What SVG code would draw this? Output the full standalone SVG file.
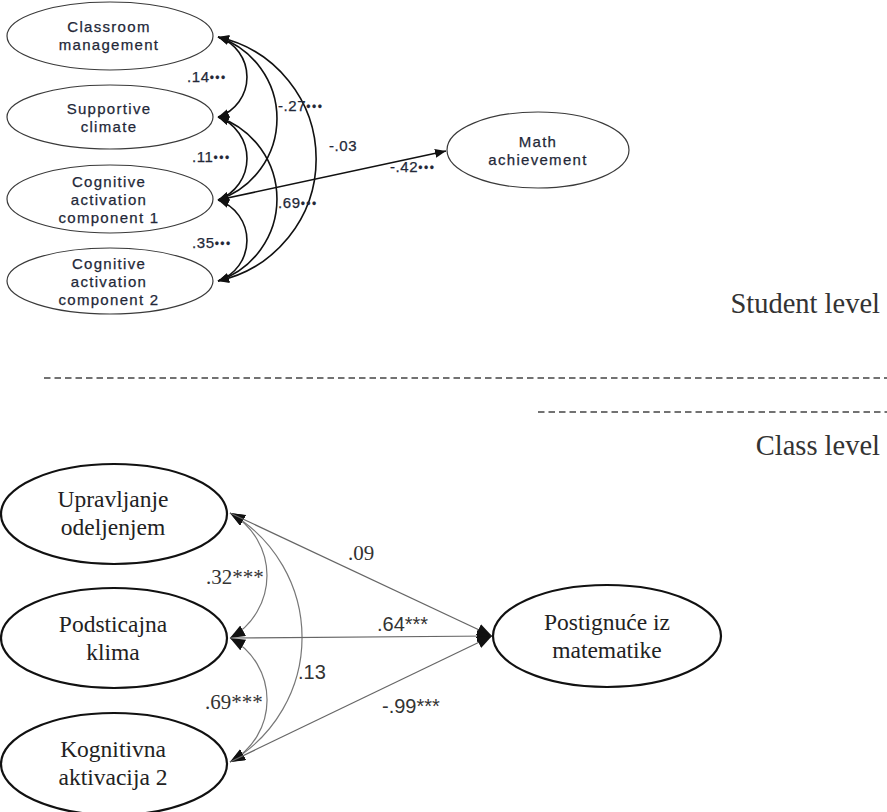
<svg xmlns="http://www.w3.org/2000/svg" width="887" height="812" viewBox="0 0 887 812">
  <style>
    .bg { fill: #ffffff; }
    .node-s { fill: #ffffff; stroke: #3a3a3a; stroke-width: 1.2; }
    .node-c { fill: #ffffff; stroke: #111111; stroke-width: 2.2; }
    .lbl-s { font-family: "Liberation Sans", Arial, sans-serif; font-size: 15px; fill: #232838; text-anchor: middle; letter-spacing: 1.3px; stroke: #232838; stroke-width: 0.25; }
    .coef-s { font-family: "Liberation Sans", Arial, sans-serif; font-size: 15px; fill: #232838; letter-spacing: 0.6px; stroke: #232838; stroke-width: 0.25; }
    .star { font-size: 12px; letter-spacing: 1.5px; }
    .lbl-c { font-family: "Liberation Serif", "Times New Roman", serif; font-size: 23.5px; fill: #222222; text-anchor: middle; }
    .coef-serif { font-family: "Liberation Serif", "Times New Roman", serif; font-size: 21px; fill: #333333; }
    .coef-sans { font-family: "Liberation Sans", Arial, sans-serif; font-size: 20px; fill: #333333; }
    .level { font-family: "Liberation Serif", "Times New Roman", serif; font-size: 28.5px; fill: #333333; text-anchor: end; }
    .cov-s { fill: none; stroke: #111111; stroke-width: 1.6; marker-start: url(#arrS); marker-end: url(#arrS); }
    .path-s { fill: none; stroke: #111111; stroke-width: 1.6; marker-end: url(#arrS); }
    .cov-c { fill: none; stroke: #777777; stroke-width: 1.2; marker-start: url(#arrC); marker-end: url(#arrC); }
    .path-c { fill: none; stroke: #666666; stroke-width: 1.2; marker-end: url(#arrC); }
    .divider { stroke: #444444; stroke-width: 1.6; stroke-dasharray: 6.5 4; }
  </style>
  <defs>
    <marker id="arrS" markerUnits="userSpaceOnUse" markerWidth="12" markerHeight="10" refX="11" refY="4.5" orient="auto-start-reverse">
      <path d="M0,0 L11,4.5 L0,9 z" fill="#111111"/>
    </marker>
    <marker id="arrC" markerUnits="userSpaceOnUse" markerWidth="16" markerHeight="14" refX="15" refY="6" orient="auto-start-reverse">
      <path d="M0,0 L15,6 L0,12 z" fill="#111111"/>
    </marker>
  </defs>

  <rect class="bg" x="0" y="0" width="887" height="812"/>

  <!-- Student-level connectors -->
  <g id="connectors-student">
    <path class="cov-s" d="M218,37 A42.1,42.1 0 0 1 218,117"/>
    <path class="cov-s" d="M218,117 A44.2,44.2 0 0 1 218,200"/>
    <path class="cov-s" d="M218,200 A42.8,42.8 0 0 1 218,281"/>
    <path class="cov-s" d="M218,37 A85.8,85.8 0 0 1 218,200"/>
    <path class="cov-s" d="M218,117 A86.5,86.5 0 0 1 218,281"/>
    <path class="cov-s" d="M218,37 A124.9,124.9 0 0 1 218,281"/>
    <path class="path-s" d="M218,200 L446,151"/>
    <text class="coef-s" x="187" y="82">.14<tspan class="star">•••</tspan></text>
    <text class="coef-s" x="278" y="111">-.27<tspan class="star">•••</tspan></text>
    <text class="coef-s" x="329" y="151">-.03</text>
    <text class="coef-s" x="192" y="162">.11<tspan class="star">•••</tspan></text>
    <text class="coef-s" x="390" y="172">-.42<tspan class="star">•••</tspan></text>
    <text class="coef-s" x="278" y="208">.69<tspan class="star">•••</tspan></text>
    <text class="coef-s" x="192" y="248">.35<tspan class="star">•••</tspan></text>
  </g>

  <!-- Student-level nodes -->
  <g id="classroom-management">
    <ellipse class="node-s" cx="110" cy="36" rx="103" ry="34"/>
    <text class="lbl-s" x="109" y="32">Classroom</text>
    <text class="lbl-s" x="109" y="50">management</text>
  </g>
  <g id="supportive-climate">
    <ellipse class="node-s" cx="110" cy="117" rx="103" ry="32"/>
    <text class="lbl-s" x="109" y="114">Supportive</text>
    <text class="lbl-s" x="109" y="132">climate</text>
  </g>
  <g id="cognitive-activation-1">
    <ellipse class="node-s" cx="110" cy="199" rx="103" ry="34"/>
    <text class="lbl-s" x="109" y="187">Cognitive</text>
    <text class="lbl-s" x="109" y="205">activation</text>
    <text class="lbl-s" x="109" y="223">component 1</text>
  </g>
  <g id="cognitive-activation-2">
    <ellipse class="node-s" cx="110" cy="281" rx="103" ry="33"/>
    <text class="lbl-s" x="109" y="269">Cognitive</text>
    <text class="lbl-s" x="109" y="287">activation</text>
    <text class="lbl-s" x="109" y="305">component 2</text>
  </g>
  <g id="math-achievement">
    <ellipse class="node-s" cx="538" cy="150" rx="91" ry="38"/>
    <text class="lbl-s" x="538" y="147">Math</text>
    <text class="lbl-s" x="538" y="165">achievement</text>
  </g>

  <!-- Level separators -->
  <g id="levels">
    <text class="level" x="880" y="313">Student level</text>
    <line class="divider" x1="44" y1="378" x2="887" y2="378"/>
    <line class="divider" x1="538" y1="412" x2="887" y2="412"/>
    <text class="level" x="880" y="455">Class level</text>
  </g>

  <!-- Class-level connectors -->
  <g id="connectors-class">
    <path class="cov-c" d="M230,513 A71.3,71.3 0 0 1 230,638"/>
    <path class="cov-c" d="M230,638 A70.4,70.4 0 0 1 230,762"/>
    <path class="cov-c" d="M230,513 A143.6,143.6 0 0 1 230,762"/>
    <path class="path-c" d="M230,513 L492,636"/>
    <path class="path-c" d="M230,638 L492,636"/>
    <path class="path-c" d="M230,762 L492,636"/>
    <text class="coef-serif" x="348" y="560">.09</text>
    <text class="coef-serif" x="206" y="584">.32***</text>
    <text class="coef-sans" x="377" y="631">.64***</text>
    <text class="coef-sans" x="298" y="679">.13</text>
    <text class="coef-serif" x="205" y="709">.69***</text>
    <text class="coef-sans" x="382" y="713">-.99***</text>
  </g>

  <!-- Class-level nodes -->
  <g id="upravljanje-odeljenjem">
    <ellipse class="node-c" cx="114" cy="514" rx="113" ry="50"/>
    <text class="lbl-c" x="113" y="507">Upravljanje</text>
    <text class="lbl-c" x="113" y="535">odeljenjem</text>
  </g>
  <g id="podsticajna-klima">
    <ellipse class="node-c" cx="114" cy="638" rx="113" ry="50"/>
    <text class="lbl-c" x="113" y="632">Podsticajna</text>
    <text class="lbl-c" x="113" y="660">klima</text>
  </g>
  <g id="kognitivna-aktivacija-2">
    <ellipse class="node-c" cx="114" cy="764" rx="113" ry="51"/>
    <text class="lbl-c" x="113" y="757">Kognitivna</text>
    <text class="lbl-c" x="113" y="785">aktivacija 2</text>
  </g>
  <g id="postignuce-iz-matematike">
    <ellipse class="node-c" cx="607" cy="636" rx="114" ry="51"/>
    <text class="lbl-c" x="607" y="630">Postignuće iz</text>
    <text class="lbl-c" x="607" y="658">matematike</text>
  </g>
</svg>
